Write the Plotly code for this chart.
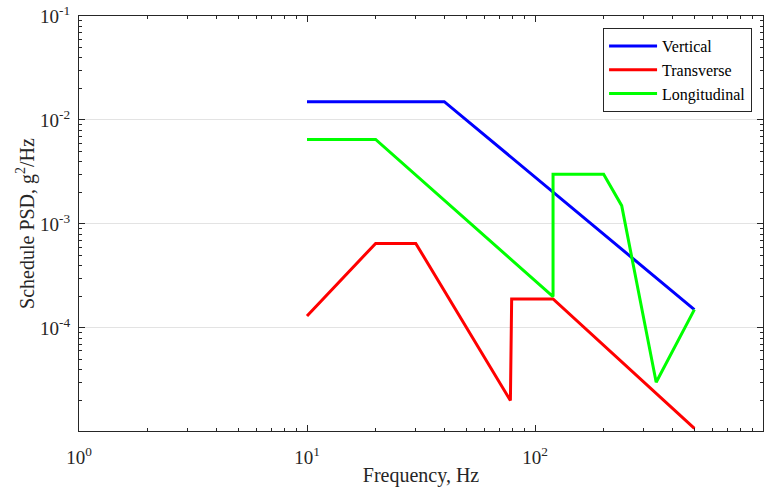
import numpy as np
import plotly.graph_objects as go

# Schedule PSD breakpoints (frequency in Hz, PSD in g^2/Hz)
vert_f = [10, 40, 500]
vert_psd = [0.015, 0.015, 0.00015]

trans_f = [10, 20, 30, 78, 79, 120, 500]
trans_psd = [1.3e-4, 6.5e-4, 6.5e-4, 2.0e-5, 1.9e-4, 1.9e-4, 1.08e-5]

long_f = [10, 20, 120, 120, 200, 240, 340, 500]
long_psd = [0.0065, 0.0065, 0.0002, 0.003, 0.003, 0.0015, 3.0e-5, 0.00015]

x_ticks = [1, 10, 100, 1000]
x_ticktext = ["10<sup>0</sup>", "10<sup>1</sup>", "10<sup>2</sup>", "10<sup>3</sup>"]
y_ticks = [1e-4, 1e-3, 1e-2, 1e-1]
y_ticktext = ["10<sup>-4</sup>", "10<sup>-3</sup>", "10<sup>-2</sup>", "10<sup>-1</sup>"]

x_minor = [k * 10.0 ** n for n in range(0, 3) for k in range(2, 10)]
y_minor = [k * 10.0 ** n for n in range(-5, -1) for k in range(2, 10)]

x_range = [0, 3]
y_range = [np.log10(1.02e-5), -1]

font_family = "Times New Roman, Liberation Serif, DejaVu Serif, serif"
text_color = "#262626"

fig = go.Figure()
fig.add_trace(go.Scatter(x=vert_f, y=vert_psd, mode="lines", name="Vertical",
                         line=dict(color="#0000ff", width=3)))
fig.add_trace(go.Scatter(x=trans_f, y=trans_psd, mode="lines", name="Transverse",
                         line=dict(color="#ff0000", width=3)))
fig.add_trace(go.Scatter(x=long_f, y=long_psd, mode="lines", name="Longitudinal",
                         line=dict(color="#00ff00", width=3)))

tick_style = dict(ticks="inside", ticklen=6, tickcolor=text_color, tickwidth=1)
minor_style = dict(ticks="inside", ticklen=3, tickcolor=text_color, showgrid=False)

fig.update_layout(
    xaxis=dict(
        type="log", range=x_range, automargin=False,
        tickvals=x_ticks, ticktext=x_ticktext, showgrid=False,
        showline=True, linecolor=text_color, linewidth=1, zeroline=False,
        tickfont=dict(family=font_family, size=19, color=text_color),
        ticklabelstandoff=9,
        title=dict(text="Frequency, Hz",
                   font=dict(family=font_family, size=20, color=text_color), standoff=1),
        minor=dict(tickvals=x_minor, **minor_style),
        **tick_style,
    ),
    yaxis=dict(
        type="log", range=y_range, automargin=False,
        tickvals=y_ticks, ticktext=y_ticktext,
        showgrid=True, gridcolor="#e3e3e3", gridwidth=1,
        showline=True, linecolor=text_color, linewidth=1, zeroline=False,
        tickfont=dict(family=font_family, size=19, color=text_color),
        ticklabelstandoff=4,
        title=dict(text="Schedule PSD, g<sup>2</sup>/Hz",
                   font=dict(family=font_family, size=20, color=text_color), standoff=0),
        minor=dict(tickvals=y_minor, **minor_style),
        **tick_style,
    ),
    # top and right box edges with their own tick marks
    xaxis2=dict(
        type="log", range=x_range, overlaying="x", side="top", anchor="y", automargin=False,
        tickvals=x_ticks, showticklabels=False, showgrid=False, zeroline=False,
        showline=True, linecolor=text_color, linewidth=1,
        minor=dict(tickvals=x_minor, **minor_style),
        **tick_style,
    ),
    yaxis2=dict(
        type="log", range=y_range, overlaying="y", side="right", anchor="x", automargin=False,
        tickvals=y_ticks, showticklabels=False, showgrid=False, zeroline=False,
        showline=True, linecolor=text_color, linewidth=1,
        minor=dict(tickvals=y_minor, **minor_style),
        **tick_style,
    ),
    width=773, height=488,
    margin=dict(l=79, r=10, t=16, b=57, autoexpand=False),
    paper_bgcolor="white", plot_bgcolor="white",
    font=dict(family=font_family, size=16, color=text_color),
    showlegend=True,
    legend=dict(
        x=0.984, y=0.971, xanchor="right", yanchor="top",
        bgcolor="white", bordercolor=text_color, borderwidth=1,
        font=dict(family=font_family, size=16, color="#000000"),
        itemwidth=48, tracegroupgap=0,
    ),
)

# invisible trace that activates the mirrored axes
fig.add_trace(go.Scatter(x=[10], y=[1e-3], xaxis="x2", yaxis="y2", mode="markers",
                         marker=dict(opacity=0), showlegend=False, hoverinfo="skip"))

fig.write_html("out.html")
